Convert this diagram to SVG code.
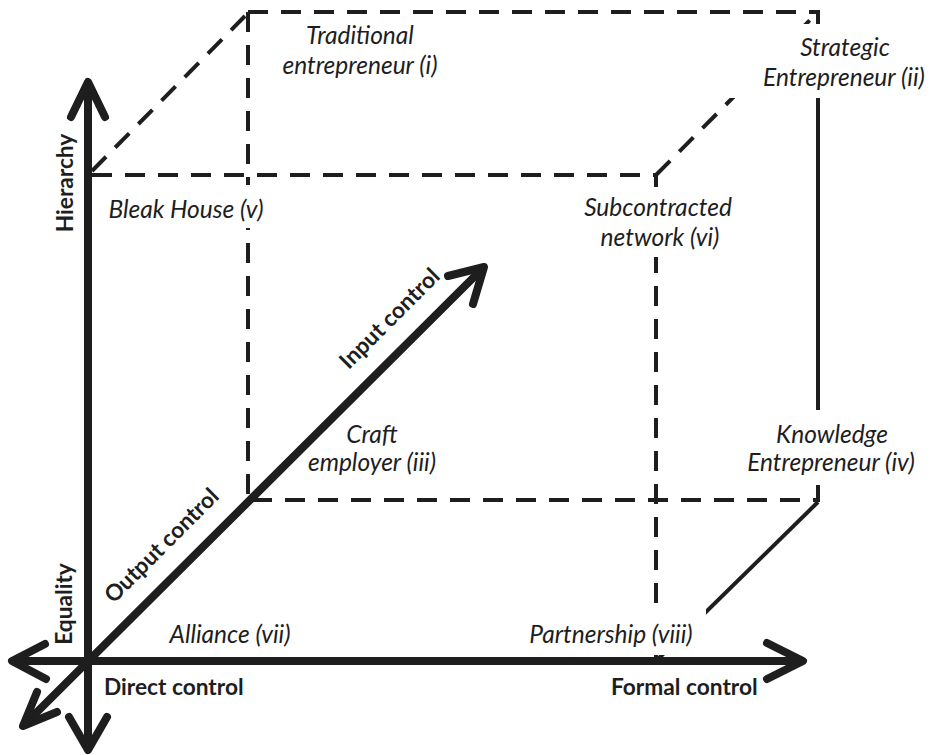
<svg xmlns="http://www.w3.org/2000/svg" width="930" height="755" viewBox="0 0 930 755">
<style>
.dash{fill:none;stroke:#1e1e1e;stroke-width:4;stroke-dasharray:20 13;stroke-linecap:butt}
.solid{fill:none;stroke:#1e1e1e;stroke-width:4;stroke-linecap:butt}
.axis{fill:none;stroke:#1e1e1e;stroke-width:8;stroke-linecap:round;stroke-linejoin:round}
.bg{fill:#ffffff}
.lbl{font-family:Lato,"Liberation Sans",sans-serif;font-style:italic;font-size:24.5px;fill:#1e1e1e;text-anchor:middle}
.ax{font-family:Lato,"Liberation Sans",sans-serif;font-weight:bold;font-size:22.7px;fill:#1e1e1e}
</style>
<rect width="930" height="755" fill="#ffffff"/>
<g id="cube-edges">
  <line class="dash" x1="248" y1="12" x2="818" y2="12"/>
  <line class="solid" x1="818" y1="10" x2="818" y2="24"/>
  <line class="dash" x1="248" y1="12" x2="248" y2="500"/>
  <line class="dash" x1="252" y1="500" x2="818" y2="500"/>
  <line class="solid" x1="818" y1="24" x2="818" y2="502"/>
  <line class="solid" x1="818" y1="502" x2="656" y2="661"/>
  <line class="dash" x1="92" y1="171" x2="245" y2="16"/>
  <line class="dash" x1="92" y1="175" x2="656" y2="175"/>
  <line class="dash" x1="656" y1="175" x2="818" y2="12"/>
  <line class="solid" x1="656" y1="173" x2="656" y2="187"/>
  <line class="dash" x1="656" y1="187" x2="656" y2="661"/>
</g>
<g id="node-traditional">
  <text class="lbl" x="360" y="44">Traditional</text>
  <text class="lbl" x="360" y="74">entrepreneur (i)</text>
</g>
<g id="node-strategic">
  <rect class="bg" x="730" y="24" width="198" height="74"/>
  <text class="lbl" x="845" y="56">Strategic</text>
  <text class="lbl" x="844" y="86">Entrepreneur (ii)</text>
</g>
<g id="node-bleak">
  <rect class="bg" x="105" y="185" width="163" height="43"/>
  <text class="lbl" x="186" y="218">Bleak House (v)</text>
</g>
<g id="node-subcontracted">
  <rect class="bg" x="580" y="187" width="156" height="70"/>
  <text class="lbl" x="658" y="216">Subcontracted</text>
  <text class="lbl" x="660" y="246">network (vi)</text>
</g>
<g id="node-craft">
  <text class="lbl" x="372" y="443">Craft</text>
  <text class="lbl" x="372" y="471">employer (iii)</text>
</g>
<g id="node-knowledge">
  <rect class="bg" x="742" y="410" width="182" height="75"/>
  <text class="lbl" x="832" y="443">Knowledge</text>
  <text class="lbl" x="831" y="471">Entrepreneur (iv)</text>
</g>
<g id="node-alliance">
  <text class="lbl" x="230" y="643">Alliance (vii)</text>
</g>
<g id="node-partnership">
  <rect class="bg" x="522" y="603" width="184" height="52"/>
  <text class="lbl" x="611" y="643">Partnership (viii)</text>
</g>
<g id="axes">
  <line class="axis" x1="88" y1="84" x2="88" y2="748"/>
  <polyline class="axis" points="71,117 88,82 105,117"/>
  <polyline class="axis" points="69,717 88,750 107,717"/>
  <line class="axis" x1="14" y1="661" x2="801" y2="661"/>
  <polyline class="axis" points="45,644 12,661 46,679"/>
  <polyline class="axis" points="767,643 803,661 767,679"/>
  <line class="axis" x1="25" y1="724" x2="482" y2="269"/>
  <polyline class="axis" points="37,692 23,726 57,712"/>
  <polyline class="axis" points="448,276 484,267 473,304"/>
</g>
<g id="axis-labels">
  <text class="ax" x="104" y="695">Direct control</text>
  <text class="ax" x="611" y="695">Formal control</text>
  <text class="ax" text-anchor="middle" transform="translate(73,183) rotate(-90)">Hierarchy</text>
  <text class="ax" text-anchor="middle" transform="translate(72,604) rotate(-90)">Equality</text>
  <text class="ax" text-anchor="middle" transform="translate(167,551) rotate(-45)">Output control</text>
  <text class="ax" text-anchor="middle" transform="translate(395,324) rotate(-45)">Input control</text>
</g>
</svg>
